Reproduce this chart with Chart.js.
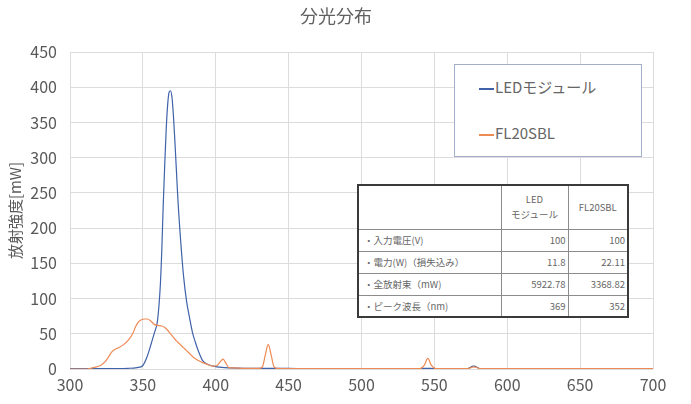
<!DOCTYPE html>
<html lang="ja">
<head>
    <meta charset="UTF-8">
    <title>分光分布</title>
    <style>
        * {
            box-sizing: border-box;
            margin: 0;
            padding: 0;
        }
        body {
            background: #ffffff;
            font-family: "Noto Sans CJK JP", "Noto Sans", sans-serif;
            color: #595959;
        }
        .wrap {
            position: relative;
            width: 691px;
            height: 404px;
        }
        .title {
            position: absolute;
            left: 236px;
            top: 2px;
            width: 200px;
            text-align: center;
            font-size: 18px;
            color: #606060;
        }
        .legend {
            position: absolute;
            left: 454px;
            top: 64px;
            width: 188px;
            height: 93px;
            border: 1px solid #a3aec8;
            background: #ffffff;
            font-size: 15px;
            color: #666666;
        }
        .legend div {
            position: absolute;
            left: 24px;
            white-space: nowrap;
        }
        .legend span {
            display: inline-block;
            width: 15px;
            height: 2px;
            vertical-align: middle;
            margin-right: 1px;
        }
        table {
            position: absolute;
            left: 357px;
            top: 184px;
            width: 272px;
            border-collapse: collapse;
            border: 2px solid #3a3a3a;
            background: #ffffff;
            font-size: 9.5px;
            color: #666666;
        }
        td {
            border: 1px solid #8c8c8c;
            height: 22px;
            padding: 0 2px;
            text-align: right;
            white-space: nowrap;
        }
        td.lbl {
            text-align: left;
            padding-left: 5px;
        }
        tr.head td {
            height: 44px;
            text-align: center;
            line-height: 15px;
        }
    </style>
</head>
<body>
<div class="wrap">
    <canvas id="spec" width="691" height="404"></canvas>
    <div class="title">分光分布</div>
    <div class="legend">
        <div style="top:11px"><span style="background:#3f62aa"></span>LEDモジュール</div>
        <div style="top:57px"><span style="background:#ee8b55"></span>FL20SBL</div>
    </div>
    <table id="specTable"></table>
</div>

<script src="https://cdn.jsdelivr.net/npm/chart.js"></script>
<script>
    // LED module spectrum (wavelength nm / mW)
    const ledWl  = [300, 320, 340, 346, 350, 353, 356, 358, 360, 362, 363, 364, 365, 366, 367, 368, 369, 370, 371, 372, 373, 374, 376, 378, 380, 382, 384, 386, 388, 391, 395, 401, 410, 420, 440, 460, 540, 545, 550, 572, 577, 582, 700];
    const ledVal = [0.5, 0.5, 1, 2, 5, 18, 38, 52, 68, 120, 170, 235, 290, 340, 375, 393, 395, 385, 358, 322, 282, 242, 180, 130, 96, 73, 52, 38, 26, 12, 6, 3, 1.5, 1, 1, 0.5, 0.5, 1, 0.5, 0.5, 4, 0.5, 0.5];

    // FL20SBL spectrum
    const flWl  = [300, 312, 314, 318, 321, 324, 327, 329, 331, 334, 337, 340, 343, 345, 347, 349, 351, 353, 355, 357, 358, 360, 363, 365, 367, 369, 371, 373, 375, 378, 380, 383, 385, 388, 391, 395, 398, 401, 403, 405, 407, 409, 412, 420, 430, 432, 434, 436, 438, 440, 442, 460, 540, 543, 545.5, 548, 551, 573, 577, 582, 700];
    const flVal = [0, 0, 1, 3, 5, 10, 19, 25, 28, 31, 35, 41, 50, 60, 67, 70, 71, 71, 69, 65, 63, 62, 61, 59, 55, 50, 45, 40, 36, 30, 26, 20, 16, 12, 9, 6, 4, 5, 10, 14, 8, 2, 1.5, 1, 1, 3, 20, 35, 20, 3, 1, 0.5, 0.5, 5, 15, 5, 0.5, 0.5, 3, 0.5, 0.5];

    const seriesNames = ['LEDモジュール', 'FL20SBL'];

    // table inside the chart
    const tableHead = ['LED<br>モジュール', 'FL20SBL'];
    const tableRows = ['・入力電圧(V)', '・電力(W)（損失込み）', '・全放射束（mW)', '・ピーク波長（nm)'];
    const tableLed  = ['100', '11.8', '5922.78', '369'];
    const tableFl   = ['100', '22.11', '3368.82', '352'];

    let html = '<tr class="head"><td class="lbl" style="width:143px"></td><td style="width:67px">' + tableHead[0] + '</td><td>' + tableHead[1] + '</td></tr>';
    for (let i = 0; i < tableRows.length; i++) {
        html += '<tr><td class="lbl">' + tableRows[i] + '</td><td>' + tableLed[i] + '</td><td>' + tableFl[i] + '</td></tr>';
    }
    document.getElementById('specTable').innerHTML = html;

    const toPts = (xs, ys) => xs.map((x, i) => ({ x: x, y: ys[i] }));
    const font = "'Noto Sans CJK JP', 'Noto Sans', sans-serif";
    const grey = '#595959';

    new Chart(document.getElementById('spec'), {
        type: 'line',
        data: {
            datasets: [{
                label: seriesNames[0],
                data: toPts(ledWl, ledVal),
                borderColor: '#3f62aa',
                borderWidth: 1.2,
                pointRadius: 0,
                cubicInterpolationMode: 'monotone',
                order: 1
            }, {
                label: seriesNames[1],
                data: toPts(flWl, flVal),
                borderColor: '#ee8b55',
                borderWidth: 1.2,
                pointRadius: 0,
                cubicInterpolationMode: 'monotone',
                order: 0
            }]
        },
        options: {
            responsive: false,
            animation: false,
            layout: { padding: { left: 0, right: 38, top: 52, bottom: 0 } },
            plugins: {
                legend: { display: false },
                tooltip: { enabled: false },
                title: { display: false }
            },
            scales: {
                x: {
                    type: 'linear',
                    min: 300,
                    max: 700,
                    ticks: { stepSize: 50, color: grey, padding: 6, font: { family: font, size: 16 } },
                    grid: { color: '#dcdcdc', drawTicks: false },
                    border: { display: false },
                    afterFit: (s) => { s.height = 35; }
                },
                y: {
                    min: 0,
                    max: 450,
                    ticks: { stepSize: 50, color: grey, padding: 13, font: { family: font, size: 16 } },
                    grid: { color: '#dcdcdc', drawTicks: false },
                    border: { display: false },
                    title: {
                        display: true,
                        text: '放射強度[mW]',
                        color: grey,
                        font: { family: font, size: 15 },
                        padding: { top: 6, bottom: 0 }
                    },
                    afterFit: (s) => { s.width = 70; }
                }
            }
        }
    });
</script>
</body>
</html>
